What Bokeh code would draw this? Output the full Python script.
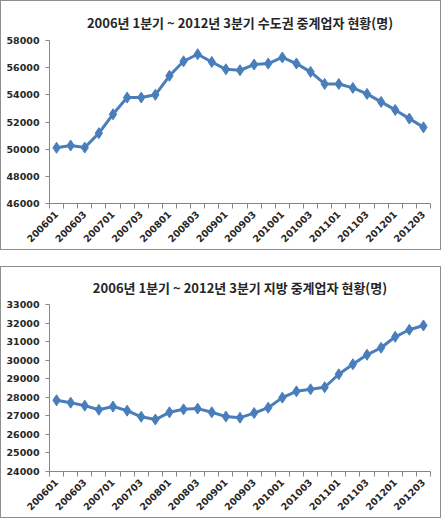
import math
from bokeh.plotting import figure
from bokeh.models import FixedTicker, Range1d
from bokeh.layouts import column
from bokeh.embed import file_html
from bokeh.resources import INLINE

quarters = ["200601", "200602", "200603", "200604",
            "200701", "200702", "200703", "200704",
            "200801", "200802", "200803", "200804",
            "200901", "200902", "200903", "200904",
            "201001", "201002", "201003", "201004",
            "201101", "201102", "201103", "201104",
            "201201", "201202", "201203"]

capital = [50100, 50270, 50120, 51180, 52570, 53800, 53800, 54000, 55400,
           56470, 56990, 56420, 55880, 55810, 56230, 56300, 56750, 56300,
           55690, 54800, 54800, 54510, 54070, 53480, 52890, 52250, 51610]

regional = [27840, 27710, 27550, 27330, 27500, 27280, 26950, 26800, 27190,
            27350, 27390, 27190, 26960, 26900, 27150, 27440, 27980, 28320,
            28430, 28540, 29240, 29780, 30290, 30670, 31260, 31640, 31870]

capital_title = "2006년 1분기 ~ 2012년 3분기 수도권 중계업자 현황(명)"
regional_title = "2006년 1분기 ~ 2012년 3분기 지방 중계업자 현황(명)"

capital_yticks = [46000, 48000, 50000, 52000, 54000, 56000, 58000]
regional_yticks = [24000, 25000, 26000, 27000, 28000, 29000, 30000, 31000, 32000, 33000]

LINE = "#4A7EBB"
AXIS = "#868686"
TEXT = "#262626"


def make_chart(title, values, yticks, height, btop, bbottom, standoff):
    n = len(quarters)
    xs = list(range(n))
    p = figure(width=441, height=height, output_backend="svg", toolbar_location=None,
               x_range=Range1d(-0.5, n - 0.5),
               y_range=Range1d(yticks[0], yticks[-1]),
               min_border_left=48, min_border_right=12,
               min_border_top=btop, min_border_bottom=bbottom,
               background_fill_color="white", border_fill_color="white")
    p.styles = {"border": "1px solid #8f8f8f"}
    p.outline_line_color = None
    p.grid.visible = False

    p.title.text = title
    p.title.align = "center"
    p.title.text_font = "Noto Sans CJK KR"
    p.title.text_font_style = "bold"
    p.title.text_font_size = "13px"
    p.title.text_color = TEXT
    p.title.standoff = standoff

    p.line(xs, values, line_color=LINE, line_width=3)
    p.scatter(xs, values, marker="diamond", size=11, fill_color=LINE, line_color=LINE)

    xa = p.xaxis[0]
    even = [i for i in xs if i % 2 == 0]
    xa.ticker = FixedTicker(ticks=even, minor_ticks=[i - 0.5 for i in range(n + 1)])
    xa.major_label_overrides = {i: quarters[i] for i in even}
    xa.major_label_orientation = math.pi / 4
    xa.major_tick_out = 0
    xa.major_tick_in = 0
    xa.minor_tick_out = 5
    xa.minor_tick_in = 0
    xa.minor_tick_line_color = AXIS
    xa.axis_line_color = AXIS
    xa.major_label_standoff = 4

    ya = p.yaxis[0]
    ya.ticker = FixedTicker(ticks=yticks, minor_ticks=[])
    ya.major_tick_out = 4
    ya.major_tick_in = 0
    ya.major_tick_line_color = AXIS
    ya.axis_line_color = AXIS
    ya.major_label_standoff = 6

    for ax in (xa, ya):
        ax.major_label_text_font = "DejaVu Sans"
        ax.major_label_text_font_style = "bold"
        ax.major_label_text_font_size = "9.5px"
        ax.major_label_text_color = TEXT
    return p


p1 = make_chart(capital_title, capital, capital_yticks, 250, 39, 48, 18)
p2 = make_chart(regional_title, regional, regional_yticks, 252, 37, 48, 15)

layout = column(p1, p2, spacing=16)
open("out.html", "w").write(file_html(layout, INLINE))
